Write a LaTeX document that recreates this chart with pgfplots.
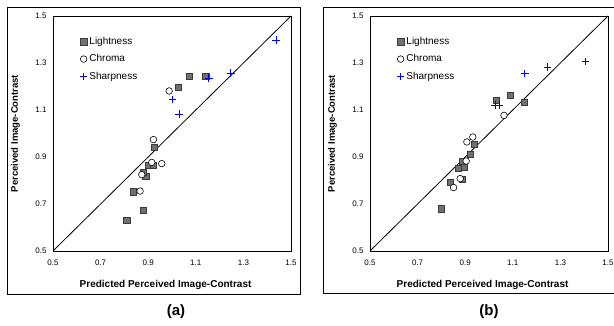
\documentclass[border=0pt]{standalone}
\usepackage{fontspec}
\setmainfont{Liberation Sans}
\usepackage{pgfplots}
\pgfplotsset{compat=1.18}
\definecolor{sqfill}{HTML}{707070}
\definecolor{sqdraw}{HTML}{3A3A3A}
\definecolor{plusblue}{HTML}{0000FF}
\pgfdeclareplotmark{bplus}{%
  \pgfsetstrokecolor{plusblue}%
  \pgfsetlinewidth{0.9pt}%
  \pgfpathmoveto{\pgfqpoint{-\pgfplotmarksize}{0pt}}%
  \pgfpathlineto{\pgfqpoint{\pgfplotmarksize}{0pt}}%
  \pgfpathmoveto{\pgfqpoint{0pt}{-\pgfplotmarksize}}%
  \pgfpathlineto{\pgfqpoint{0pt}{\pgfplotmarksize}}%
  \pgfusepathqstroke}
\pgfplotsset{
  myaxis/.style={
    scale only axis, width=238pt, height=235pt,
    xmin=0.5, xmax=1.5, ymin=0.5, ymax=1.5,
    xtick={0.5,0.7,0.9,1.1,1.3,1.5},
    ytick={0.5,0.7,0.9,1.1,1.3,1.5},
    xticklabels={0.5,0.7,0.9,1.1,1.3,1.5},
    yticklabels={0.5,0.7,0.9,1.1,1.3,1.5},
    major tick length=0pt,
    axis line style={line width=0.8pt},
    tick label style={font=\fontsize{8}{9}\selectfont},
    xticklabel style={yshift=-5pt},
    yticklabel style={xshift=-3pt},
    /pgf/number format/assume math mode=true,
    xlabel={Predicted Perceived Image-Contrast},
    ylabel={Perceived Image-Contrast},
    every axis x label/.style={at={(axis description cs:0.473,-0.145)}, anchor=center, font=\bfseries\fontsize{10}{12}\selectfont},
    every axis y label/.style={at={(axis description cs:-0.158,0.5)}, rotate=90, anchor=center, font=\bfseries\fontsize{9.5}{11}\selectfont},
    legend style={at={(axis description cs:0.112,0.918)}, anchor=north west, draw=none, fill=none,
      font=\fontsize{10}{12}\selectfont, row sep=4.5pt, inner sep=0pt},
    legend cell align=left,
  },
  myimg/.style={legend image code/.code={\draw[mark repeat=2,mark phase=2,##1] plot coordinates {(0cm,0cm) (0.15cm,0cm) (0.3cm,0cm)};}},
  light/.style={only marks, color=sqdraw, mark=square*, mark size=3.1pt, mark options={fill=sqfill, draw=sqdraw, line width=0.5pt}, myimg},
  chroma/.style={only marks, color=black, mark=*, mark size=3.3pt, mark options={fill=white, draw=black, line width=0.6pt}, myimg},
  sharp/.style={only marks, color=plusblue, mark=bplus, mark size=3.8pt, mark options={draw=plusblue, line width=0.9pt}, myimg},
}
\begin{document}
\begin{tikzpicture}[x=1pt,y=1pt]
\useasboundingbox (0,0) rectangle (614,326);
\fill[white] (0,0) rectangle (614,326);
\draw[line width=0.9pt] (7,32) rectangle (300,319);
\draw[line width=0.9pt] (323,33) rectangle (625,319);

\begin{axis}[myaxis, at={(53pt,75pt)}, anchor=south west]
\addplot[light] coordinates {(0.81,0.63) (0.88,0.675) (0.838,0.752) (0.89,0.818) (0.88,0.835) (0.90,0.866) (0.92,0.866) (0.926,0.94) (1.027,1.198) (1.071,1.245) (1.142,1.245)};
\addlegendentry{Lightness}
\addplot[chroma] coordinates {(0.866,0.755) (0.873,0.825) (0.915,0.877) (0.957,0.872) (0.922,0.974) (0.988,1.181)};
\addlegendentry{Chroma}
\addplot[sharp] coordinates {(1.002,1.144) (1.030,1.082) (1.155,1.235) (1.247,1.257) (1.437,1.397)};
\addlegendentry{Sharpness}
\addplot[black, line width=0.8pt, forget plot] coordinates {(0.5,0.5) (1.5,1.5)};
\end{axis}

\begin{axis}[myaxis, at={(370pt,75pt)}, anchor=south west]
\addplot[light] coordinates {(0.798,0.68) (0.837,0.791) (0.889,0.805) (0.872,0.851) (0.896,0.858) (0.890,0.882) (0.921,0.911) (0.939,0.953) (1.030,1.141) (1.088,1.163) (1.147,1.134)};
\addlegendentry{Lightness}
\addplot[chroma] coordinates {(0.851,0.77) (0.879,0.808) (0.904,0.883) (0.907,0.964) (0.932,0.985) (1.063,1.077)};
\addlegendentry{Chroma}
\addplot[sharp] coordinates {(1.026,1.12) (1.042,1.12) (1.151,1.255) (1.245,1.283) (1.405,1.307)};
\addlegendentry{Sharpness}
\addplot[black, line width=0.8pt, forget plot] coordinates {(0.5,0.5) (1.5,1.5)};
\end{axis}

\node[font=\bfseries\fontsize{15}{17}\selectfont] at (176,14) {(a)};
\node[font=\bfseries\fontsize{15}{17}\selectfont] at (489,14) {(b)};
\end{tikzpicture}
\end{document}
